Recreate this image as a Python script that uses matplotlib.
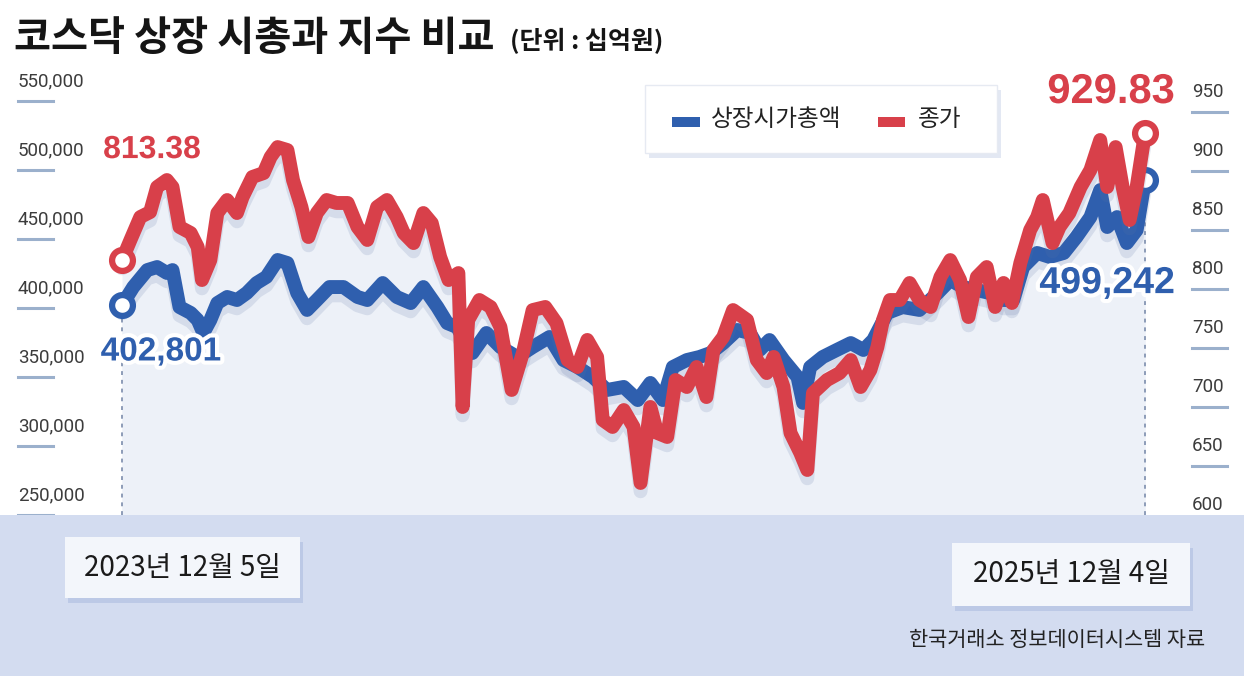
import numpy as np
import pandas as pd
import matplotlib
matplotlib.use('Agg')
import matplotlib.pyplot as plt
import matplotlib.dates as mdates
import matplotlib.patheffects as pe
import matplotlib.transforms as mtransforms
from matplotlib.patches import Rectangle

plt.rcParams['font.family'] = ['Noto Sans CJK KR', 'DejaVu Sans']

# ---- data ----
START = '2023-12-05'

# 상장시가총액 (십억원), days after 2023-12-05
blue_days = [0, 8, 18, 25, 32, 36, 41, 49, 54, 58, 63, 68, 75, 82, 89, 96, 103, 111, 118, 125,
             132, 139, 148, 158, 168, 175,
             186, 196, 206, 215, 225, 232, 239, 250, 260, 270, 282, 293, 305, 315, 325, 336, 346,
             358, 368, 377, 386, 393, 403, 412, 420, 429, 439, 448, 455, 462, 472, 482, 486, 491,
             500, 510, 520, 529, 536,
             546, 557, 569, 582, 591, 600, 610, 619, 629, 636, 643, 653, 662, 672, 681, 691, 698,
             703, 710, 717, 724, 730]
blue_vals = [402200, 415200, 427500, 429700, 425400, 427500, 400700, 396400, 391300, 381900,
             391300, 403600, 408000, 405800, 410900, 418100, 422500, 434800, 432600, 410900,
             398600, 405800, 415200, 415200, 408000, 405800,
             418100, 408000, 403600, 415200, 400700, 389100, 386200, 367400, 381900, 371700,
             364500, 371700, 379000, 362300, 357200, 350000, 340600,
             342800, 333300, 345700, 333300, 357200, 362300, 364500, 367400, 374600, 384100,
             381900, 369600, 376800, 362300, 350000, 331200, 357200, 364500, 369600, 374600,
             369600, 376800,
             396400, 400700, 398600, 410900, 420300, 415200, 413000, 410900, 405800, 405800,
             429700, 439900, 437000, 439900, 451400, 465900, 485500, 458700, 465900, 447100,
             456500, 492700]

# 코스닥 종가
red_days = [0, 6, 13, 20, 25, 32, 36, 41, 49, 54, 57, 63, 68, 75, 82, 86, 93, 101, 106, 111,
            118, 122, 128, 133, 139, 146, 153, 161, 168, 175,
            182, 189, 196, 201, 208, 215, 221, 227, 233, 240, 243, 247, 255, 263, 270, 278, 286,
            293, 302, 310, 318, 325, 332, 339, 343, 350,
            358, 365, 370, 377, 382, 389, 395, 403, 410, 417, 422, 429, 436, 446, 453, 460, 465,
            472, 477, 484, 489, 493, 503, 512, 520, 527, 534, 539,
            543, 548, 555, 562, 569, 577, 584, 591, 598, 604, 610, 617, 623, 629, 635, 641, 648,
            653, 657, 664, 669, 676, 684, 691, 698, 703, 709, 714, 719, 724, 730]
red_vals = [824.5, 841.5, 860.9, 865.1, 886.3, 892.2, 886.3, 852.5, 847.4, 835.5, 807.6, 824.5,
            864.3, 875.3, 864.3, 877.8, 894.8, 898.1, 911.7, 920.1, 917.6, 892.2, 869.4, 844.0,
            864.3, 875.3, 872.8, 872.8, 852.5, 841.5,
            869.4, 875.3, 860.9, 847.4, 838.9, 864.3, 855.8, 827.1, 807.6, 813.5, 700.2, 773.8,
            790.7, 784.8, 767.9, 714.6, 745.9, 782.2, 784.8, 771.2, 739.9, 734.0, 756.9, 742.5,
            689.2, 683.3,
            697.6, 683.3, 635.9, 700.2, 678.2, 674.8, 723.0, 717.1, 734.0, 708.6, 748.4, 759.4,
            782.2, 773.8, 739.9, 728.9, 742.5, 717.1, 678.2, 661.3, 646.9, 712.0, 723.0, 728.9,
            739.9, 717.1, 731.5, 750.9,
            773.8, 790.7, 790.7, 805.1, 790.7, 784.8, 810.2, 824.5, 807.6, 776.3, 810.2, 818.6,
            784.8, 805.1, 788.2, 822.0, 849.9, 860.9, 875.3, 838.9, 852.5, 864.3, 886.3, 900.7,
            926.1, 886.3, 920.1, 886.3, 858.4, 886.3, 932.0]

left_ticks = [250000, 300000, 350000, 400000, 450000, 500000, 550000]
right_ticks = [600, 650, 700, 750, 800, 850, 900, 950]

title = '코스닥 상장 시총과 지수 비교'
unit = '(단위 : 십억원)'
legend_names = ['상장시가총액', '종가']
start_label = '2023년 12월 5일'
end_label = '2025년 12월 4일'
blue_start_txt, blue_end_txt = '402,801', '499,242'
red_start_txt, red_end_txt = '813.38', '929.83'
source = '한국거래소 정보데이터시스템 자료'

BLUE = '#2f5fae'
RED = '#d8404a'
FILL = '#edf1f8'
NUM_FONT = 'Liberation Sans'

W, H = 1244, 687


def fx(px):
    return px / W


def fy(py):
    return 1 - py / H


t0 = pd.Timestamp(START)
blue_dates = t0 + pd.to_timedelta(blue_days, unit='D')
red_dates = t0 + pd.to_timedelta(red_days, unit='D')

fig = plt.figure(figsize=(W / 100, H / 100), dpi=100)
fig.patch.set_facecolor('white')

ax = fig.add_axes([fx(110), fy(515), fx(1155) - fx(110), fy(90) - fy(515)])
ax2 = ax.twinx()
ax2.set_zorder(ax.get_zorder() + 1)
ax2.patch.set_visible(False)

ax.set_xlim(t0 - pd.Timedelta(days=8.6), t0 + pd.Timedelta(days=737.1))
ax.set_ylim(250000, 558000)
ax2.set_ylim(608.8, 968.4)
for a in (ax, ax2):
    for s in a.spines.values():
        s.set_visible(False)
    a.set_xticks([])
    a.set_yticks([])

# light area under both lines
ax.fill_between(blue_dates, blue_vals, 250000, color=FILL, lw=0, zorder=0)
red_num = mdates.date2num(red_dates)
red_pix = ax2.transData.transform(np.column_stack([red_num, red_vals]))
red_in_ax = ax.transData.inverted().transform(red_pix)
ax.fill_between(red_in_ax[:, 0], red_in_ax[:, 1], 250000, color=FILL, lw=0, zorder=0)

# dotted guides
ax.vlines([blue_dates[0], blue_dates[-1]], 250000, [blue_vals[0], blue_vals[-1]],
          colors='#8d9cb8', linestyles=(0, (2, 2.5)), lw=1.4, zorder=1)

shadow = [pe.SimpleLineShadow(offset=(0, -6), shadow_color='#5a72a5', alpha=0.16), pe.Normal()]
ax.plot(blue_dates, blue_vals, color=BLUE, lw=10, solid_joinstyle='round',
        solid_capstyle='round', path_effects=shadow, zorder=3)
ax2.plot(red_dates, red_vals, color=RED, lw=10, solid_joinstyle='round',
         solid_capstyle='round', path_effects=shadow, zorder=3)

for a, d, v, c in [(ax, blue_dates, blue_vals, BLUE), (ax2, red_dates, red_vals, RED)]:
    a.plot([d[0], d[-1]], [v[0], v[-1]], 'o', ms=15, mfc='white', mec=c, mew=4.5,
           zorder=5, clip_on=False)

# value labels
halo = [pe.withStroke(linewidth=6, foreground='white')]
ax2.annotate(red_start_txt, (red_dates[0], red_vals[0]), xytext=(30, 110),
             textcoords='offset pixels', ha='center', va='center', color=RED,
             fontsize=23, fontweight='bold', family=NUM_FONT, path_effects=halo, zorder=6)
ax2.annotate(red_end_txt, (red_dates[-1], red_vals[-1]), xytext=(-34, 41),
             textcoords='offset pixels', ha='center', va='center', color=RED,
             fontsize=30, fontweight='bold', family=NUM_FONT, path_effects=halo, zorder=6)
ax.annotate(blue_start_txt, (blue_dates[0], blue_vals[0]), xytext=(39, -47),
            textcoords='offset pixels', ha='center', va='center', color=BLUE,
            fontsize=24, fontweight='bold', family=NUM_FONT, path_effects=halo, zorder=6)
ax.annotate(blue_end_txt, (blue_dates[-1], blue_vals[-1]), xytext=(-38, -103),
            textcoords='offset pixels', ha='center', va='center', color=BLUE,
            fontsize=27, fontweight='bold', family=NUM_FONT, path_effects=halo, zorder=6)

# axis labels with short underline marks
for a, ticks, x0, x1, fmt in [(ax, left_ticks, 18, 53, '{:,}'), (ax2, right_ticks, 1192, 1227, '{}')]:
    tr = mtransforms.blended_transform_factory(fig.transFigure, a.transData)
    for v in ticks:
        a.plot([fx(x0), fx(x1)], [v, v], color='#9bb0cc', lw=2.2, transform=tr,
               clip_on=False, zorder=2)
        a.annotate(fmt.format(v), (x0, v), xycoords=('figure pixels', 'data'),
                   xytext=(0, 20), textcoords='offset pixels', ha='left', va='center',
                   fontsize=13.5, color='#3c3c3c', family='Roboto')

# title
fig.text(fx(14), fy(38), title, fontsize=29, fontweight='bold', color='#151515',
         ha='left', va='center')
fig.text(fx(510), fy(41), unit, fontsize=18, fontweight='bold', color='#151515',
         ha='left', va='center')

# legend box
fig.add_artist(Rectangle((fx(649), fy(158)), fx(352), 68 / H, transform=fig.transFigure,
                         color='#c9d3e8', alpha=0.5, lw=0, zorder=8))
fig.add_artist(Rectangle((fx(645), fy(153)), fx(352), 68 / H, transform=fig.transFigure,
                         facecolor='white', edgecolor='#e6eaf2', lw=1, zorder=9))
fig.add_artist(Rectangle((fx(672), fy(127)), fx(28), 10 / H, transform=fig.transFigure,
                         color=BLUE, lw=0, zorder=10))
fig.text(fx(711), fy(120), legend_names[0], fontsize=17, color='#222222',
         ha='left', va='center', zorder=10)
fig.add_artist(Rectangle((fx(878), fy(127)), fx(27), 10 / H, transform=fig.transFigure,
                         color=RED, lw=0, zorder=10))
fig.text(fx(918), fy(120), legend_names[1], fontsize=17, color='#222222',
         ha='left', va='center', zorder=10)

# bottom band
fig.add_artist(Rectangle((0, fy(676)), 1, (676 - 515) / H, transform=fig.transFigure,
                         color='#d3dcf0', lw=0, zorder=10))
for (x0, y0, x1, y1), lab in [((65, 537, 300, 598), start_label),
                              ((952, 543, 1190, 606), end_label)]:
    fig.add_artist(Rectangle((fx(x0 + 3), fy(y1 + 5)), fx(x1 - x0), (y1 - y0) / H,
                             transform=fig.transFigure, color='#aebde0', alpha=0.6,
                             lw=0, zorder=11))
    fig.add_artist(Rectangle((fx(x0), fy(y1)), fx(x1 - x0), (y1 - y0) / H,
                             transform=fig.transFigure, color='#f3f6fb', lw=0, zorder=12))
    fig.text(fx((x0 + x1) / 2), fy((y0 + y1) / 2), lab, fontsize=20, color='#1a1a1a',
             ha='center', va='center', zorder=13)

fig.text(fx(1205), fy(640), source, fontsize=15, color='#222222',
         ha='right', va='center', zorder=13)

fig.savefig('out.png', dpi=100)
